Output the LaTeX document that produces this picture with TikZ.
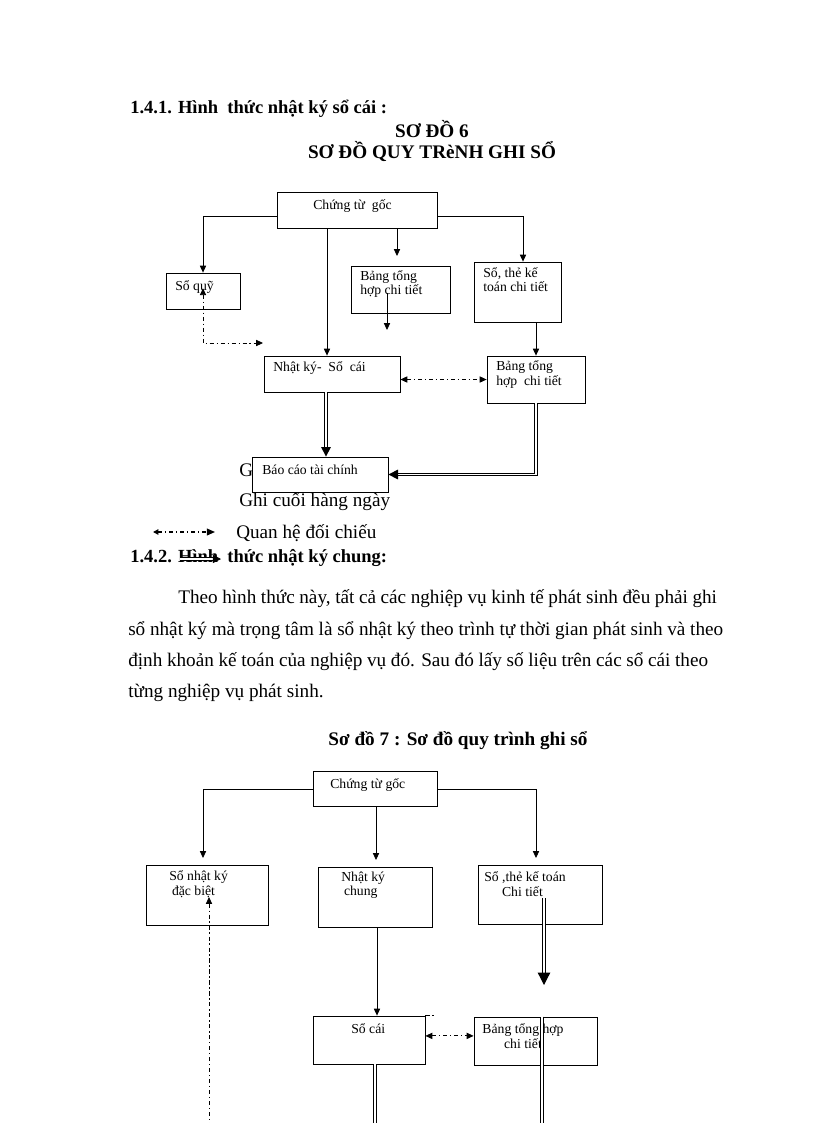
\documentclass[tikz,border=0pt]{standalone}
\usepackage{fontspec}
\setmainfont{Liberation Serif}
\usetikzlibrary{arrows.meta}
\def\pxu{0.7295pt}
\tikzset{box/.style 2 args={draw, line width=.6pt, inner sep=0pt,
  minimum width=#1*\pxu, minimum height=#2*\pxu}}
\tikzset{txt/.style={font=\fontsize{10}{10.5}\selectfont, inner sep=0pt,
  anchor=west, align=left}}
\tikzset{body/.style={font=\fontsize{14}{16}\selectfont, inner sep=0pt, anchor=west}}
\tikzset{head/.style={font=\fontsize{14}{16}\selectfont\bfseries, inner sep=0pt}}
\tikzset{arr/.style={line width=.6pt, -{Triangle[length=5pt,width=4.5pt]}}}
\tikzset{biarr/.style={line width=.6pt,
  {Triangle[length=5pt,width=4.5pt]}-{Triangle[length=5pt,width=4.5pt]}}}
\tikzset{dd/.style={dash pattern=on 3pt off 2pt on 1pt off 2pt}}
\tikzset{dbl/.style={double, double distance=1.1pt, line width=.9pt}}

\begin{document}
\begin{tikzpicture}[x=\pxu, y=-\pxu]

\fill[white] (0,0) rectangle (816,1123);
\useasboundingbox (0,0) rectangle (816,1123);

\node[head, anchor=west, font=\fontsize{13.5}{16}\selectfont\bfseries] (h141) at (130,109) {1.4.1. Hình\ \ thức nhật ký sổ cái :};
\node[head] (sd6) at (432,129) {SƠ ĐỒ 6};
\node[head] (qt6) at (432,152) {SƠ ĐỒ QUY TRèNH GHI SỔ};

% so do 6
\node[box={160}{36}] (cgA) at (357,210) {};
\node[box={74}{36}] (soquy) at (203,291) {};
\node[box={99}{47}] (btA) at (400.5,289.5) {};
\node[box={87}{60}] (stA) at (517.5,292) {};
\node[box={136}{36}] (nksc) at (332,374) {};
\node[box={98}{47}] (btB) at (536,379.5) {};
\node[box={136}{35}] (bctc) at (320,474.5) {};

\node[txt] (cgAt) at (313,206) {Chứng từ\ \ gốc};
\node[txt] (soquyt) at (175,287) {Sổ quỹ};
\node[txt] (btAt) at (360,284) {Bảng tổng\\hợp chi tiết};
\node[txt] (stAt) at (483,279.5) {Sổ, thẻ kế\\toán chi tiết};
\node[txt] (nksct) at (273,368) {Nhật ký-\ \ Sổ\ \ cái};
\node[txt] (btBt) at (496,374.5) {Bảng tổng\\hợp\ \ chi tiết};
\node[txt] (bctct) at (262,470) {Báo cáo tài chính};

\coordinate (btAin) at (397,256);
\coordinate (btAa) at (387,293);
\coordinate (btAb) at (387,330);
\coordinate (sqend) at (263,343);

\draw[arr] (cgA.west) ++(0,6) -| (soquy.north);
\draw[arr] (327,0 |- cgA.south) -- (327,0 |- nksc.north);
\draw[arr] (cgA.south -| btAin) -- (btAin);
\draw[arr] (btAa) -- (btAb);
\draw[arr] (cgA.east) ++(0,6) -| (523,0 |- stA.north);
\draw[arr] (btB.north |- stA.south) -- (btB.north);
\draw[dd, biarr] (nksc.east |- btB.west) -- (btB.west);
\draw[dd, biarr] ([yshift=2pt]soquy.center) |- (sqend);
\draw[dbl, -{Triangle[length=7pt,width=7pt]}] (326,0 |- nksc.south) -- (326,0 |- bctc.north);
\draw[dbl, -{Triangle[length=7pt,width=7pt]}] (btB.south) |- (bctc.east);

% chu thich
\node[body] (gl) at (239,470) {G};
\node[body] (gcl) at (239,502) {Ghi cuối hàng ngày};
\coordinate (qa) at (153,532);
\coordinate (qb) at (215,532);
\draw[dd, line width=1pt, {Triangle[length=4pt,width=4pt]}-{Triangle[length=6pt,width=5pt]}] (qa) -- (qb);
\node[body] (qhl) at (236,533) {Quan hệ đối chiếu};
\node[head, anchor=west, font=\fontsize{13.5}{16}\selectfont\bfseries] (h142) at (130,558) {1.4.2. Hình\ \ thức nhật ký chung:};
\coordinate (gca) at (180,559);
\coordinate (gcb) at (221,559);
\draw[dbl, line width=.6pt, -{Triangle[length=6pt,width=6pt]}] (gca) -- (gcb);

\node[body] (p1) at (178,599) {\makebox[393pt][s]{Theo hình thức này, tất cả các nghiệp vụ kinh tế phát sinh đều phải ghi}};
\node[body] (p2) at (128,631) {\makebox[434pt][s]{sổ nhật ký mà trọng tâm là sổ nhật ký theo trình tự thời gian phát sinh và theo}};
\node[body] (p3) at (128,662) {\makebox[423pt][s]{định khoản kế toán của nghiệp vụ đó. Sau đó lấy số liệu trên các sổ cái theo}};
\node[body] (p4) at (128,693) {từng nghiệp vụ phát sinh.};
\node[head] (sd7) at (458,741) {Sơ đồ 7 : Sơ đồ quy trình ghi sổ};

% so do 7
\node[box={124}{35}] (cgB) at (375,789) {};
\node[box={122}{60}] (snk) at (207,895) {};
\node[box={114}{60}] (nkc) at (375,897) {};
\node[box={124}{59}] (stB) at (540,894.5) {};
\node[box={112}{48}] (scai) at (369,1040) {};
\node[box={123}{48}] (btC) at (535.5,1041) {};

\node[txt] (cgBt) at (330,785) {Chứng từ gốc};
\node[txt] (snkt) at (169,884) {Sổ nhật ký\\\hspace{2pt}đặc biệt};
\node[txt] (nkct) at (341,885) {Nhật ký\\\hspace{2pt}chung};
\node[txt] (stBt) at (484,884) {Sổ ,thẻ kế toán\\\hspace{13pt}Chi tiết};
\node[txt] (scait) at (351,1029) {Sổ cái};
\node[txt, anchor=center, align=center] (btCt) at (523,1036) {Bảng tổng hợp\\chi tiết};

\coordinate (snkin) at (203,858);
\coordinate (nkcin) at (376,860);
\coordinate (stBin) at (536,858);
\coordinate (snkup) at (209,897);
\coordinate (snkend) at (209,1123);
\coordinate (stBa) at (544,898);
\coordinate (stBb) at (544,985);
\coordinate (scaiend) at (375,1123);
\coordinate (btCend) at (542,1123);

\draw[arr] (cgB.west) -| (snkin);
\draw[arr] (cgB.south -| nkcin) -- (nkcin);
\draw[arr] (cgB.east) -| (stBin);
\draw[dd, line width=.6pt, {Triangle[length=5pt,width=4.5pt]}-] (snkup) -- (snkend);
\draw[dbl, -{Triangle[length=9pt,width=9pt]}] (stBa) -- (stBb);
\draw[arr] (377,0 |- nkc.south) -- (377,0 |- scai.north);
\draw[dd, biarr] ([yshift=3pt]scai.east) -- ([yshift=3pt]scai.east -| btC.west);
\draw[dd, line width=.6pt] (scai.north east) -- ++(10,0);
\draw[dbl] (375,0 |- scai.south) -- (scaiend);
\draw[dbl] (542,0 |- btC.north) -- (btCend);

\end{tikzpicture}
\end{document}
